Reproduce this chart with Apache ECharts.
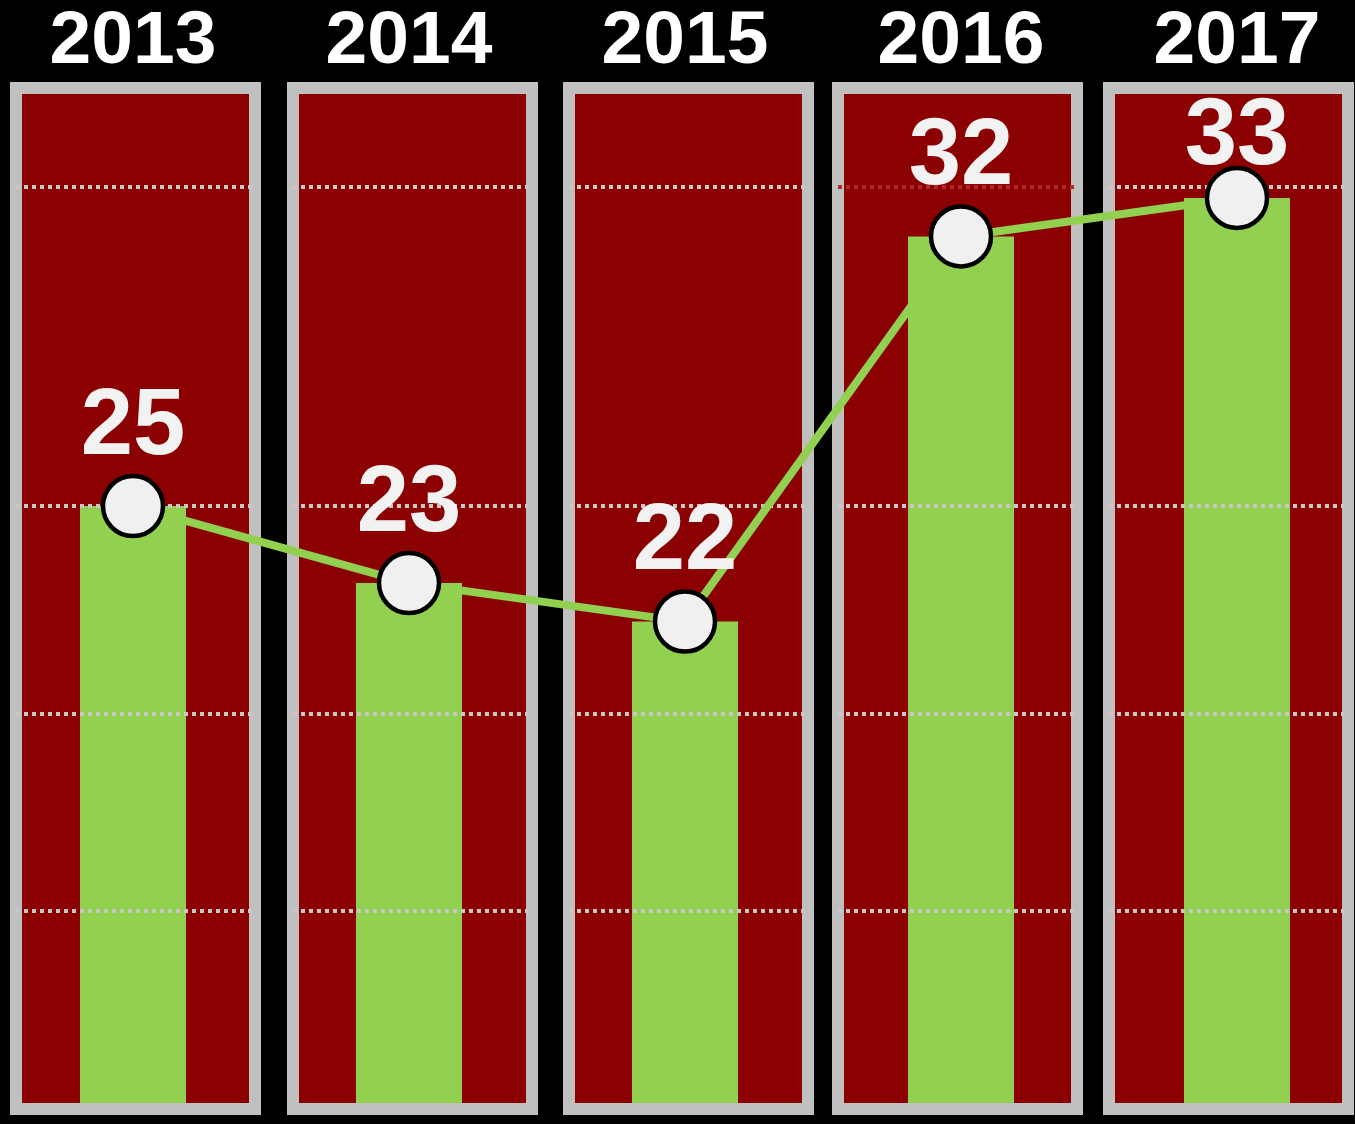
<!DOCTYPE html>
<html>
<head>
<meta charset="utf-8">
<script src="https://cdn.jsdelivr.net/npm/echarts@6/dist/echarts.min.js"></script>
<style>
  html, body { margin: 0; padding: 0; background: #000; }
  #chart { width: 1355px; height: 1124px; }
</style>
</head>
<body>
<div id="chart"></div>
<script>
const years = ["2013", "2014", "2015", "2016", "2017"];
const values = [25, 23, 22, 32, 33];
// dotted guide levels, in the same units as the values
const gridLevelsUnder = [19.6, 25, 33.3];
const gridLevelsOver = [14.5];
const yMin = 9.5;
const yMax = 35.7;

// panel layout (inner red area)
const panelLefts = [22, 299, 575, 844, 1115];
const panelWidth = 227;
const panelTop = 94;
const panelHeight = 1009;
const border = 12;

const font = "Liberation Sans";
const dotStyle = { color: "#c8c8c8", type: "dotted", width: 4 };
const chart = echarts.init(document.getElementById("chart"));
const pad = ((yMax - yMin) * (border / 2)) / panelHeight;

function dottedLines(i, levels) {
  return {
    type: "line",
    xAxisIndex: i,
    yAxisIndex: i,
    data: [],
    silent: true,
    markLine: {
      silent: true,
      symbol: "none",
      animation: false,
      label: { show: false },
      lineStyle: dotStyle,
      data: levels.map((v) => {
        const item = { yAxis: v };
        // the top guide of 2016 is a faded red one
        if (i === 3 && v === 33.3) item.lineStyle = { color: "#b02a2a" };
        return item;
      }),
    },
  };
}

const grid = [];
const xAxis = [];
const yAxis = [];
const series = [];
panelLefts.forEach((left, i) => {
  grid.push({
    show: true,
    outerBoundsMode: "none",
    left: left - border / 2,
    top: panelTop - border / 2,
    width: panelWidth + border,
    height: panelHeight + border,
    backgroundColor: "#8b0000",
    borderColor: "#c0c0c0",
    borderWidth: border,
  });
  xAxis.push({ type: "category", gridIndex: i, data: [years[i]], show: false });
  // this axis only draws the guide that lies over the bars
  yAxis.push({
    type: "value",
    gridIndex: i,
    min: yMin - pad,
    max: yMax + pad,
    z: 6,
    axisLine: { show: false },
    axisLabel: { show: false },
    axisTick: { show: false, customValues: gridLevelsOver },
    splitLine: { show: true, lineStyle: dotStyle },
  });
  series.push(dottedLines(i, gridLevelsUnder));
});

// overlay grid for bars + line
const ov = panelLefts.length;
grid.push({
  outerBoundsMode: "none",
  left: -5,
  top: panelTop,
  width: 1380,
  height: panelHeight,
});
xAxis.push({
  type: "category",
  gridIndex: ov,
  position: "top",
  data: years,
  axisLine: { show: false },
  axisTick: { show: false },
  axisLabel: {
    color: "#ffffff",
    fontSize: 75,
    fontWeight: "bold",
    fontFamily: font,
    margin: 14,
  },
});
yAxis.push({ type: "value", gridIndex: ov, min: yMin, max: yMax, show: false });

series.push({
  name: "bars",
  type: "bar",
  xAxisIndex: ov,
  yAxisIndex: ov,
  data: values,
  barWidth: 106,
  z: 2,
  itemStyle: { color: "#92d050" },
});

series.push({
  name: "line",
  type: "line",
  xAxisIndex: ov,
  yAxisIndex: ov,
  z: 8,
  data: values.map((v, i) =>
    i === values.length - 1 ? { value: v, label: { distance: -19 } } : v
  ),
  symbol: "circle",
  symbolSize: 60,
  lineStyle: { color: "#92d050", width: 8 },
  itemStyle: { color: "#f0f0f0", borderColor: "#000000", borderWidth: 4.5 },
  label: {
    show: true,
    position: "top",
    distance: -1,
    color: "#f2f2f2",
    fontSize: 94,
    fontWeight: "bold",
    fontFamily: font,
  },
});

chart.setOption({
  backgroundColor: "#000000",
  animation: false,
  grid,
  xAxis,
  yAxis,
  series,
});
</script>
</body>
</html>
